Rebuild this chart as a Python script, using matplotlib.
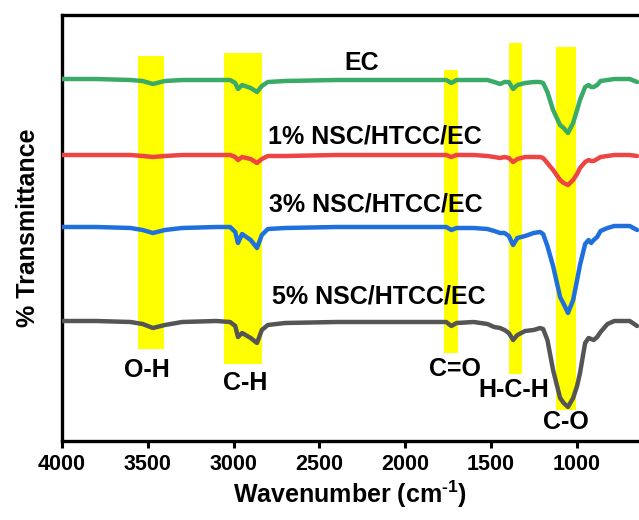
import matplotlib
matplotlib.use("Agg")
import matplotlib.pyplot as plt

plt.rcParams['font.family'] = ['Liberation Sans', 'DejaVu Sans']
plt.rcParams['font.weight'] = 'bold'
plt.rcParams['mathtext.fontset'] = 'custom'
plt.rcParams['mathtext.rm'] = 'Liberation Sans:bold'
plt.rcParams['mathtext.bf'] = 'Liberation Sans:bold'
plt.rcParams['mathtext.it'] = 'Liberation Sans:bold'

# ---- data (wavenumber in cm-1, transmittance in arbitrary offset units) ----
wavenumber = [4000, 3800, 3600, 3530, 3470, 3400, 3300, 3100, 3020, 2990,
              2974, 2950, 2900, 2863, 2835, 2800, 2700, 2400, 2100, 1800,
              1760, 1730, 1700, 1600, 1520, 1480, 1446, 1420, 1395, 1370,
              1345, 1300, 1250, 1213, 1195, 1170, 1137, 1096, 1075, 1050,
              1020, 997, 980, 950, 930, 915, 900, 880, 860, 820,
              780, 690, 647]

t_ec = [362, 362, 361, 360, 357, 360, 361, 361, 361, 358,
        352, 356, 353, 349, 355, 359, 360, 361, 361, 361,
        361, 358, 361, 361, 361, 359, 357, 359, 359, 352,
        356, 358, 359, 359, 358, 349, 331, 316, 313, 308,
        318, 331, 341, 354, 356, 354, 354, 356, 360, 361,
        362, 362, 359]

t_1 = [286, 286, 286, 285, 284, 285, 286, 286, 286, 284,
       281, 284, 282, 278, 282, 285, 285, 286, 286, 286,
       286, 284, 286, 286, 285, 284, 283, 284, 283, 279,
       282, 284, 284, 284, 283, 278, 271, 261, 258, 256,
       261, 267, 273, 279, 281, 280, 280, 282, 284, 285,
       286, 286, 285]

t_3 = [214, 214, 213, 211, 208, 211, 213, 214, 214, 209,
       198, 207, 201, 193, 206, 212, 213, 214, 214, 214,
       214, 211, 213, 213, 212, 210, 208, 208, 205, 196,
       203, 205, 208, 209, 207, 195, 175, 144, 137, 128,
       141, 161, 176, 197, 201, 198, 201, 204, 210, 213,
       215, 215, 211]

t_5 = [120, 120, 119, 117, 113, 116, 119, 120, 119, 115,
       104, 108, 103, 98, 111, 116, 118, 119, 119, 119,
       119, 115, 118, 119, 117, 114, 113, 111, 108, 101,
       106, 110, 111, 113, 112, 101, 71, 43, 38, 34,
       43, 55, 68, 98, 103, 102, 101, 104, 109, 117,
       120, 120, 115]

series_names = ['EC', '1% NSC/HTCC/EC', '3% NSC/HTCC/EC', '5% NSC/HTCC/EC']
series_values = [t_ec, t_1, t_3, t_5]
series_colors = ['#3aab67', '#ef4444', '#1f6fdd', '#555555']
name_pos_wn = [2251, 2178, 2169, 2152]
name_pos_t = [378, 305, 236, 144]

band_labels = ['O-H', 'C-H', 'C=O', 'H-C-H', 'C-O']
band_hi = [3557, 3055, 1773, 1394, 1120]
band_lo = [3405, 2834, 1691, 1318, 1003]
band_bottom = [92, 77, 88, 67, 31]
band_top = [385, 388, 371, 398, 394]
band_label_wn = [3504, 2933, 1708, 1364, 1064]
band_label_t = [71, 58, 72, 51, 19]

xticks = [4000, 3500, 3000, 2500, 2000, 1500, 1000]

fig = plt.figure(figsize=(6.39, 5.2), dpi=100)
ax = fig.add_axes([62/639, 79/520, 1 - 62/639, 426/520])

for hi, lo, b, t in zip(band_hi, band_lo, band_bottom, band_top):
    ax.bar((hi + lo) / 2, t - b, width=hi - lo, bottom=b, color='#ffff00',
           edgecolor='none', zorder=1)

for vals, col in zip(series_values, series_colors):
    ax.plot(wavenumber, vals, color=col, lw=3.2, zorder=3,
            solid_joinstyle='round', solid_capstyle='round')

for name, x, y in zip(series_names, name_pos_wn, name_pos_t):
    ax.text(x, y, name, ha='center', va='center', fontsize=18,
            fontweight='bold', zorder=4)

for lab, x, y in zip(band_labels, band_label_wn, band_label_t):
    ax.text(x, y, lab, ha='center', va='center', fontsize=18,
            fontweight='bold', zorder=4)

ax.set_xlim(4000, 636)
ax.set_ylim(0, 426)
ax.set_xticks(xticks)
ax.set_xticklabels([str(v) for v in xticks])
ax.set_yticks([])
ax.tick_params(axis='x', direction='out', length=5, width=2.2,
               labelsize=15.5, pad=4)
for lbl in ax.get_xticklabels():
    lbl.set_fontweight('bold')

for s in ['left', 'bottom', 'top']:
    ax.spines[s].set_linewidth(2.4)
ax.spines['right'].set_visible(False)

ax.set_xlabel(r'Wavenumber (cm$^{\text{-}\mathbf{1}}$)', fontsize=18,
              fontweight='bold', labelpad=3)
ax.set_ylabel('% Transmittance', fontsize=18, fontweight='bold', labelpad=16)

fig.savefig('out.png', dpi=100)
